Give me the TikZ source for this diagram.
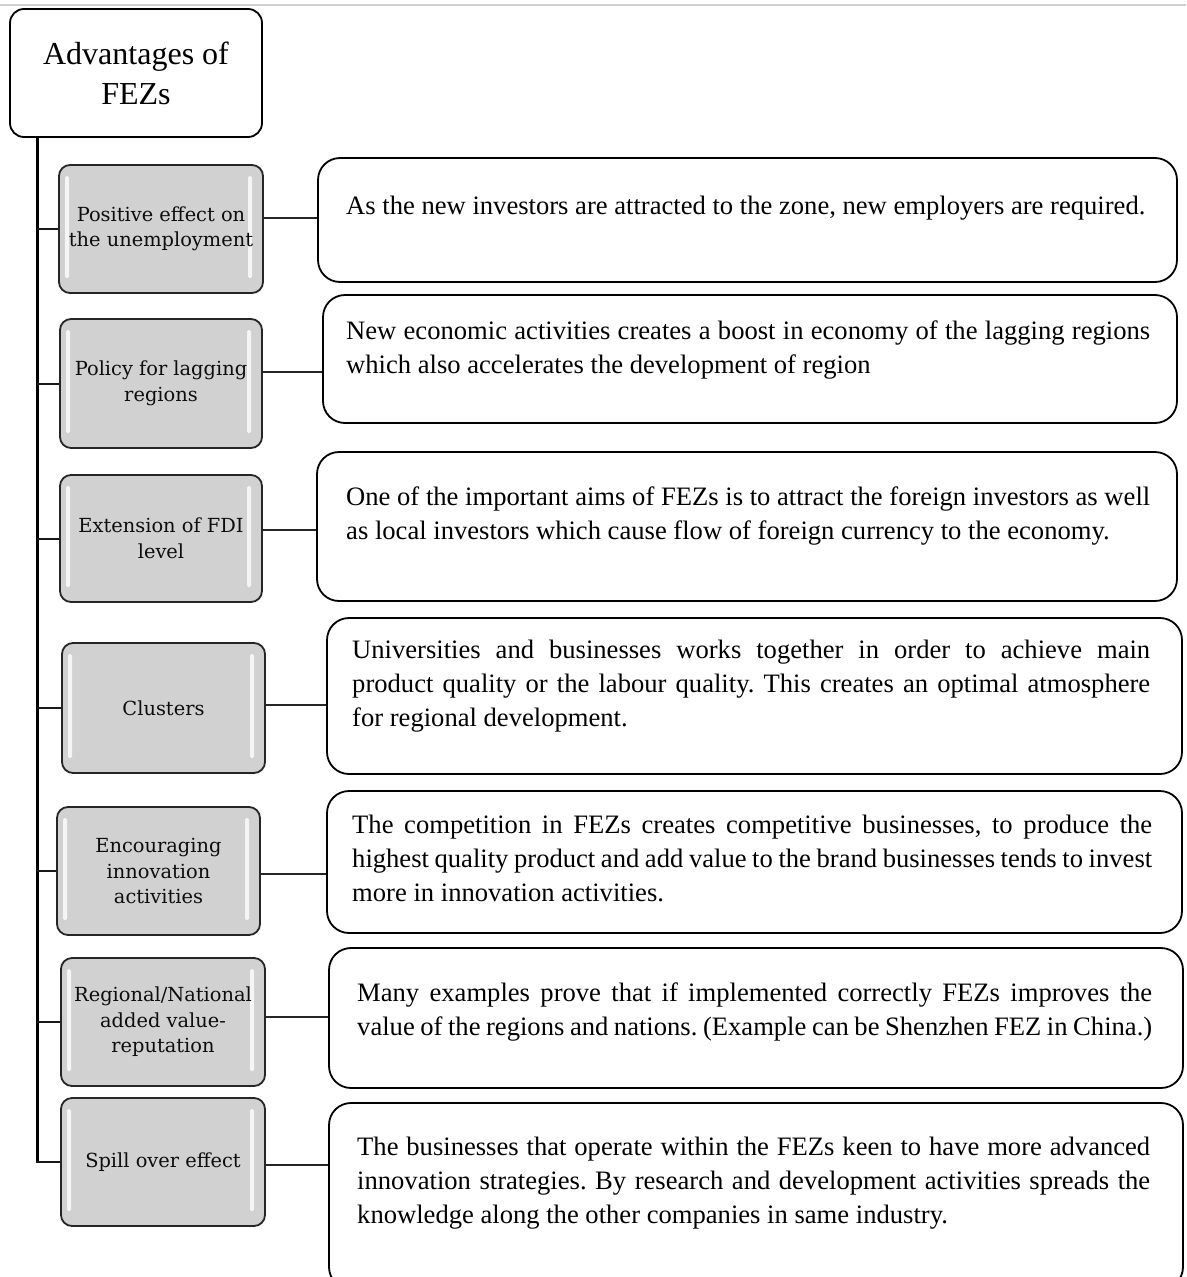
\documentclass[tikz,border=0pt]{standalone}
\usepackage{fontspec}
\setmainfont{Liberation Serif}
\newfontfamily\slabfont{DejaVu Serif}
\usetikzlibrary{calc}
\definecolor{itemgray}{HTML}{D1D1D1}
\definecolor{rulegray}{HTML}{D0D0D0}
\frenchspacing
% one justified line of a description, stretched or squeezed to the column
\newcommand\jline[1]{\hbox to \hsize{\spaceskip=0.25em plus 1em minus 0.12em\relax #1}}
% a description column of given width
\newcommand\desccol[2]{\vtop{\hsize=#1\relax #2}}
\begin{document}
\begin{tikzpicture}[x=1pt,y=-1pt,
  rootbox/.style={draw=black, line width=1.8pt, fill=white, rounded corners=14pt,
    inner sep=0pt, align=center, font=\fontsize{32}{40}\selectfont},
  itembox/.style={draw=black!85, line width=1.8pt, fill=itemgray, rounded corners=11pt,
    inner sep=0pt, align=center, text=black!95,
    font=\slabfont\fontsize{19.4}{25.5}\selectfont,
    path picture={
      \fill[white, opacity=0.8, rounded corners=1.5pt]
        ($(path picture bounding box.north west)+(6,11)$) rectangle
        ($(path picture bounding box.south west)+(10,-15)$);
      \fill[white, opacity=0.8, rounded corners=1.5pt]
        ($(path picture bounding box.north east)+(-15,11)$) rectangle
        ($(path picture bounding box.south east)+(-11,-15)$);
    }},
  descbox/.style={draw=black, line width=1.8pt, fill=white, rounded corners=22pt, inner sep=0pt},
  desctext/.style={anchor=base west, inner sep=0pt, font=\fontsize{26.6}{34}\selectfont},
  trunkline/.style={line width=3pt, black},
  branchline/.style={line width=2pt, black!90},
  linkline/.style={line width=2pt, black!85}
]
\useasboundingbox (0,0) rectangle (1186,1277);
\clip (0,0) rectangle (1186,1277);
\fill[white] (0,0) rectangle (1186,1277);
\draw[rulegray, line width=2.5pt] (0,5) -- (1186,5);

% root
\node[rootbox, minimum width=252pt, minimum height=128pt] (root) at (136,73) {Advantages of\\FEZs};

% advantages
\node[itembox, minimum width=204pt, minimum height=128pt] (g1) at (161,229)    {Positive effect on\\the unemployment};
\node[itembox, minimum width=202pt, minimum height=129pt] (g2) at (161,383.5)  {Policy for lagging\\regions};
\node[itembox, minimum width=202pt, minimum height=127pt] (g3) at (161,538.5)  {Extension of FDI\\level};
\node[itembox, minimum width=203pt, minimum height=130pt] (g4) at (163.5,708)  {Clusters};
\node[itembox, minimum width=203pt, minimum height=128pt] (g5) at (158.5,871)  {Encouraging\\innovation\\activities};
\node[itembox, minimum width=204pt, minimum height=128pt] (g6) at (163,1022)   {Regional/National\\added value-\\reputation};
\node[itembox, minimum width=204pt, minimum height=128pt] (g7) at (163,1162)   {Spill over effect};

% description frames
\node[descbox, minimum width=859pt, minimum height=124pt] (r1) at (747.5,220) {};
\node[descbox, minimum width=854pt, minimum height=128pt] (r2) at (750,359)   {};
\node[descbox, minimum width=860pt, minimum height=149pt] (r3) at (747,526.5) {};
\node[descbox, minimum width=855pt, minimum height=156pt] (r4) at (754.5,696) {};
\node[descbox, minimum width=855pt, minimum height=142pt] (r5) at (754.5,862) {};
\node[descbox, minimum width=854pt, minimum height=140pt] (r6) at (756,1018)  {};
\node[descbox, minimum width=854pt, minimum height=186pt] (r7) at (756,1196)  {};

% description texts
\node[desctext] (t1) at (346,214) {As the new investors are attracted to the zone, new employers are required.};
\node[desctext] (t2) at (346,339) {\desccol{804pt}{%
  \jline{New economic activities creates a boost in economy of the lagging regions}
  \hbox{which also accelerates the development of region}}};
\node[desctext] (t3) at (346,505) {\desccol{804pt}{%
  \jline{One of the important aims of FEZs is to attract the foreign investors as well}
  \hbox{as local investors which cause flow of foreign currency to the economy.}}};
\node[desctext] (t4) at (352,658) {\desccol{798pt}{%
  \jline{Universities and businesses works together in order to achieve main}
  \jline{product quality or the labour quality. This creates an optimal atmosphere}
  \hbox{for regional development.}}};
\node[desctext] (t5) at (352,833) {\desccol{800pt}{%
  \jline{The competition in FEZs creates competitive businesses, to produce the}
  \jline{highest quality product and add value to the brand businesses tends to invest}
  \hbox{more in innovation activities.}}};
\node[desctext] (t6) at (357,1001) {\desccol{795pt}{%
  \jline{Many examples prove that if implemented correctly FEZs improves the}
  \jline{value of the regions and nations. (Example can be Shenzhen FEZ in China.)}}};
\node[desctext] (t7) at (357,1155) {\desccol{793pt}{%
  \jline{The businesses that operate within the FEZs keen to have more advanced}
  \jline{innovation strategies. By research and development activities spreads the}
  \hbox{knowledge along the other companies in same industry.}}};

% tree: trunk from the root down to the last item
\coordinate (trunktop) at (37,137);
\draw[trunkline] (trunktop) -- (trunktop |- g7.west);
\foreach \g in {g1,g2,g3,g4,g5,g6}
  \draw[branchline] (trunktop |- \g.west) -- (\g.west);
\draw[branchline] ($(trunktop |- g7.west)+(-1.5,0)$) -- (g7.west);

% links from each item to its description
\coordinate (k1) at (0,218);
\coordinate (k2) at (0,372);
\coordinate (k3) at (0,530);
\coordinate (k4) at (0,705);
\coordinate (k5) at (0,874);
\coordinate (k6) at (0,1017);
\coordinate (k7) at (0,1165);
\foreach \i in {1,...,7}
  \draw[linkline] (g\i.east |- k\i) -- (r\i.west |- k\i);
\end{tikzpicture}
\end{document}
